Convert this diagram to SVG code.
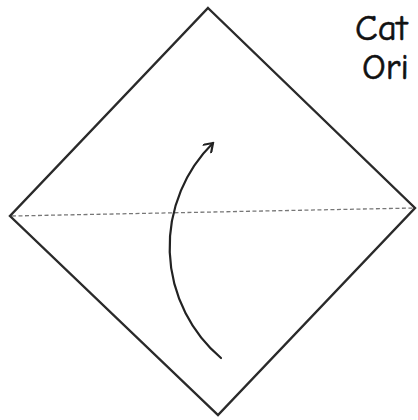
<svg xmlns="http://www.w3.org/2000/svg" width="418" height="420" viewBox="0 0 418 420">
<style>
.edge{fill:none;stroke:#2a2a2a;stroke-width:2.4;stroke-linejoin:miter}
.fold{fill:none;stroke:#777;stroke-width:1.3;stroke-dasharray:4 2.5}
.arrow{fill:none;stroke:#222;stroke-width:2.2;stroke-linecap:round}
.title{font-family:"Comic Neue","DejaVu Sans","Liberation Sans",sans-serif;font-size:37px;fill:#111;stroke:#111;stroke-width:0.6}
</style>
<defs>
<marker id="head" viewBox="0 0 12 12" refX="10" refY="6" markerWidth="12" markerHeight="12" markerUnits="userSpaceOnUse" orient="auto">
<path d="M2,0.5 L10,6 L2,11.5" fill="none" stroke="#222" stroke-width="2.2" stroke-linecap="round" stroke-linejoin="miter"/>
</marker>
</defs>
<rect width="418" height="420" fill="#fff"/>
<g id="paper">
<polygon class="edge" points="208,8 415,208 218,415 10,216"/>
</g>
<g id="connectors">
<line class="fold" x1="12" y1="216" x2="414" y2="208"/>
<path class="arrow" d="M221,358 A146,146 0 0 1 213,143" marker-end="url(#head)"/>
</g>
<g id="title">
<text class="title" x="355" y="40">Cat</text>
<text class="title" x="362" y="79">Ori</text>
</g>
</svg>
